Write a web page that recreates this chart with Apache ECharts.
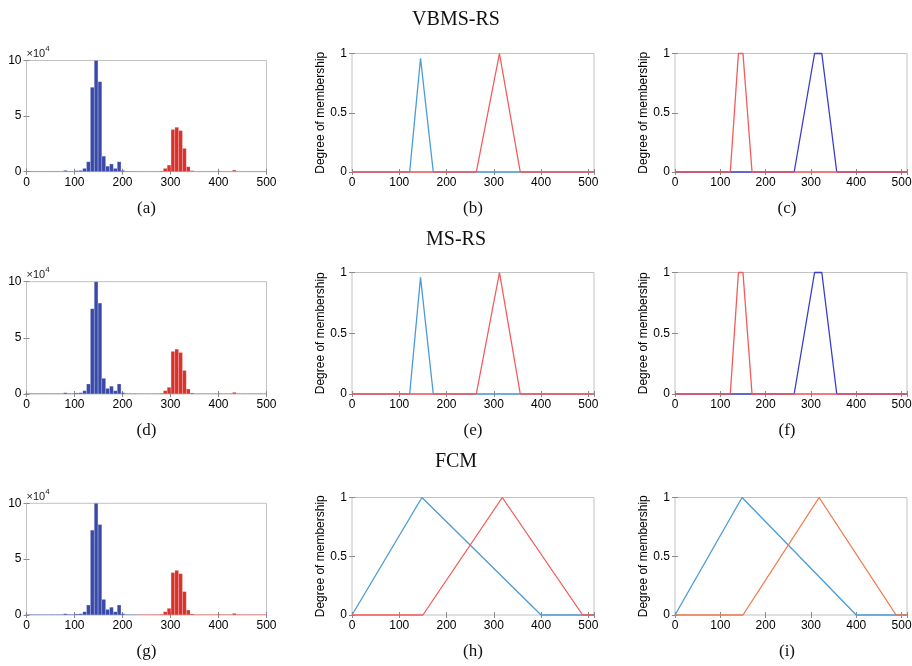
<!DOCTYPE html>
<html><head><meta charset="utf-8">
<script src="https://cdn.jsdelivr.net/npm/echarts@6/dist/echarts.min.js"></script>
<style>html,body{margin:0;padding:0;background:#fff}#c{width:912px;height:666px}</style>
</head><body><div id="c"></div>
<script>
// ---- Histogram data (counts in units of 10^4), bin centers ----
const blueCenters = [1,9,17,25,33,41,49,57,65,73,81,89,97,105,113,121,129,137,145,153,161,169,177,185,193,201,209,217,225];
const blueCounts  = [0.06,0.06,0.06,0.06,0.06,0.06,0.06,0.06,0.06,0.06,0.12,0.07,0.07,0.1,0.12,0.3,0.9,7.6,10,8.1,1.4,0.5,0.7,0.3,0.9,0.12,0.06,0.06,0.06];
const redCenters  = [233,241,249,257,265,273,281,289,297,305,313,321,329,337,345,353,361,369,377,385,393,401,409,417,425,433,441,449,457,465,473,481,489,497];
const redCounts   = [0.06,0.06,0.06,0.06,0.06,0.06,0.08,0.3,0.6,3.8,4.0,3.7,2.1,0.45,0.1,0.06,0.06,0.06,0.06,0.06,0.06,0.08,0.06,0.06,0.06,0.15,0.06,0.06,0.06,0.06,0.06,0.06,0.06,0.06];
const binWidth = 8;
const histXTicks = [0,100,200,300,400,500];
const histYTicks = [0,5,10];

// ---- Membership functions ----
const rsBlueX = [0,122,145,172,512];
const rsBlueY = [0,0,0.96,0,0];
const rsRedX  = [0,263,312,356,512];
const rsRedY  = [0,0,1,0,0];
const trRedX  = [0,122,140,150,170,512];
const trRedY  = [0,0,1,1,0,0];
const trBlueX = [0,263,308,324,357,512];
const trBlueY = [0,0,1,1,0,0];
const fcmBlueX = [0,148,400,512];
const fcmBlueY = [0,1,0,0];
const fcmRedX  = [0,150,318,488,512];
const fcmRedY  = [0,0,1,0,0];
const memXTicks = [0,100,200,300,400,500];
const memYTicks = [0,0.5,1];

const rowTitles = ['VBMS-RS','MS-RS','FCM'];
const panelLetters = [['(a)','(b)','(c)'],['(d)','(e)','(f)'],['(g)','(h)','(i)']];
const yName = 'Degree of membership';

// ---- Layout ----
const COLS = [{left:26.5,width:240},{left:352,width:242},{left:675,width:232}];
const HIST_ROWS = [{top:60.5,height:111.2},{top:281.7,height:112.3},{top:503.3,height:111.7}];
const MEM_ROWS  = [{top:53.5,height:118.5},{top:272.5,height:121.5},{top:497.5,height:117.5}];
const TITLE_Y = [20,240,462];
const SANS = 'Liberation Sans, Arial, Helvetica, sans-serif';

const C = {
  hBlue:'#3a49a8', hRed:'#d7322b',
  lBlue:'#4a9bd6', lRed:'#f45a5a', dBlue:'#3a3ccc', orange:'#f0784a'
};

const grids = [], xAxes = [], yAxes = [], series = [], graphics = [];
const tickCol = '#8a8a8a';
function pairs(xs, ys){ return xs.map((x,i)=>[x, ys[i]]); }

function addPanel(row, col, isHist){
  const gi = grids.length;
  const r = isHist ? HIST_ROWS[row] : MEM_ROWS[row];
  const c = COLS[col];
  grids.push({left:c.left, top:r.top, width:c.width, height:r.height, show:true,
    borderColor:'#c2c2c2', borderWidth:1, backgroundColor:'transparent',
    containLabel:false, outerBoundsMode:'none'});
  const xTicks = isHist ? histXTicks : memXTicks;
  const yTicks = isHist ? histYTicks : memYTicks;
  const xmax = isHist ? xTicks[xTicks.length-1] : 512;
  const xint = xTicks[1]-xTicks[0];
  const yint = yTicks[1]-yTicks[0];
  const ymax = yTicks[yTicks.length-1];
  const base = {type:'value', gridIndex:gi, splitLine:{show:false}, axisLine:{show:false},
    axisTick:{inside:true, length:3, lineStyle:{color:tickCol, width:1}}};
  xAxes.push(Object.assign({}, base, {position:'bottom', min:0, max:xmax, interval:xint,
    axisLabel:{fontSize:12, color:'#000', margin:5, fontFamily:SANS,
      formatter: v => (xTicks.indexOf(v) >= 0 ? String(v) : '')}}));
  xAxes.push(Object.assign({}, base, {position:'top', min:0, max:xmax, interval:xint, axisLabel:{show:false}}));
  const yLeft = Object.assign({}, base, {position:'left', min:0, max:ymax, interval:yint,
    axisLabel:{fontSize:12, color:'#000', margin:5, fontFamily:SANS,
      formatter: v => (yTicks.indexOf(v) >= 0 ? String(v) : '')}});
  if (isHist) {
    yLeft.name = '{m|\u00d710}{s|4}';
    yLeft.nameLocation = 'end';
    yLeft.nameGap = 1;
    yLeft.nameTextStyle = {align:'left', verticalAlign:'bottom', padding:[0,0,0,0],
      rich:{m:{fontSize:11, color:'#222', fontFamily:SANS, padding:[4,0,0,0]},
            s:{fontSize:8, color:'#222', fontFamily:SANS, padding:[0,0,7,0]}}};
  } else {
    yLeft.name = yName;
    yLeft.nameLocation = 'middle';
    yLeft.nameGap = 20;
    yLeft.nameTextStyle = {fontSize:12, color:'#000', fontFamily:SANS};
  }
  yAxes.push(yLeft);
  yAxes.push(Object.assign({}, base, {position:'right', min:0, max:ymax, interval:yint, axisLabel:{show:false}}));
  graphics.push({type:'text', x:c.left + c.width/2 + (col===2 ? -4 : 0), y:r.top + r.height + 37,
    style:{text:panelLetters[row][col], font:'17px "Liberation Serif", "Times New Roman", serif', fill:'#111',
      textAlign:'center', textVerticalAlign:'middle'}});
  return {x:2*gi, y:2*gi, pxPerUnit: c.width / xmax};
}

function addHist(ax){
  const bw = binWidth * ax.pxPerUnit;
  const common = {type:'bar', xAxisIndex:ax.x, yAxisIndex:ax.y, barGap:'-100%', barWidth:bw,
    barMaxWidth:bw, barMinWidth:bw, silent:true, large:false};
  series.push(Object.assign({}, common, {data:pairs(blueCenters, blueCounts),
    itemStyle:{color:C.hBlue, borderColor:'rgba(170,180,235,0.6)', borderWidth:0.3}}));
  series.push(Object.assign({}, common, {data:pairs(redCenters, redCounts),
    itemStyle:{color:C.hRed, borderColor:'rgba(245,170,170,0.6)', borderWidth:0.3}}));
}
function addLine(ax, xs, ys, color){
  series.push({type:'line', xAxisIndex:ax.x, yAxisIndex:ax.y, data:pairs(xs, ys), symbol:'none',
    clip:false, silent:true, lineStyle:{color:color, width:1.3}, animation:false});
}

for (let row = 0; row < 3; row++) {
  addHist(addPanel(row, 0, true));
  const a2 = addPanel(row, 1, false);
  const a3 = addPanel(row, 2, false);
  if (row < 2) {
    addLine(a2, rsBlueX, rsBlueY, C.lBlue);
    addLine(a2, rsRedX, rsRedY, C.lRed);
    addLine(a3, trBlueX, trBlueY, C.dBlue);
    addLine(a3, trRedX, trRedY, C.lRed);
  } else {
    addLine(a2, fcmBlueX, fcmBlueY, C.lBlue);
    addLine(a2, fcmRedX, fcmRedY, C.lRed);
    addLine(a3, fcmBlueX, fcmBlueY, C.lBlue);
    addLine(a3, fcmRedX, fcmRedY, C.orange);
  }
  graphics.push({type:'text', x:456, y:TITLE_Y[row],
    style:{text:rowTitles[row], font:'20px "Liberation Serif", "Times New Roman", serif', fill:'#111',
      textAlign:'center', textVerticalAlign:'middle'}});
}

const chart = echarts.init(document.getElementById('c'), null, {renderer:'canvas'});
chart.setOption({
  animation:false,
  backgroundColor:'#ffffff',
  grid:grids, xAxis:xAxes, yAxis:yAxes, series:series, graphic:graphics
});
</script>
</body></html>
